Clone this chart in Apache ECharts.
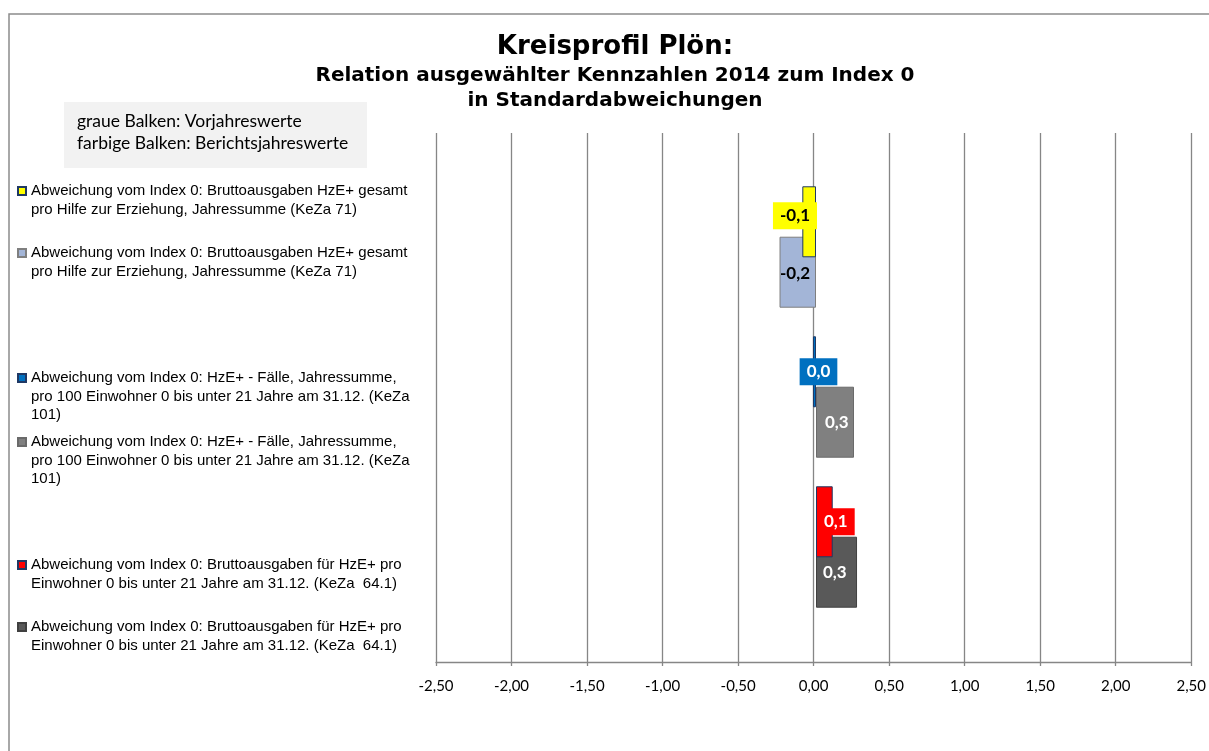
<!DOCTYPE html>
<html>
<head>
<meta charset="utf-8">
<script src="https://cdn.jsdelivr.net/npm/echarts@6/dist/echarts.min.js"></script>
<style>
  html, body { margin: 0; padding: 0; background: #fff; }
  #chart { width: 1209px; height: 751px; }
</style>
</head>
<body>
<div id="chart"></div>
<script>
// Kennzahlen (eine Zeile je Kennzahl, von oben nach unten)
const categories = ['KeZa 71', 'KeZa 101', 'KeZa 64.1'];

// Abweichung vom Index 0 in Standardabweichungen
const currentValues = [-0.09, -0.02, 0.11];   // Berichtsjahr (farbige Balken)
const previousValues = [-0.24, 0.25, 0.27];   // Vorjahr (graue Balken)

const currentColors = ['#FFFF00', '#0070C0', '#FF0000'];
const currentBorders = ['#1F3864', '#1F3864', '#1F3864'];
const previousColors = ['#A3B5D7', '#808080', '#595959'];
const previousBorders = ['#7F7F7F', '#6A6A6A', '#404040'];

const legendTexts = [
  'Abweichung vom Index 0: Bruttoausgaben HzE+ gesamt\npro Hilfe zur Erziehung, Jahressumme (KeZa 71)',
  'Abweichung vom Index 0: HzE+ - Fälle, Jahressumme,\npro 100 Einwohner 0 bis unter 21 Jahre am 31.12. (KeZa\n101)',
  'Abweichung vom Index 0: Bruttoausgaben für HzE+ pro\nEinwohner 0 bis unter 21 Jahre am 31.12. (KeZa  64.1)'
];

const xTicks = { min: -2.5, max: 2.5, interval: 0.5 };

const titleText = 'Kreisprofil Plön:';
const subtitleLines = ['Relation ausgewählter Kennzahlen 2014 zum Index 0', 'in Standardabweichungen'];
const noteLines = ['graue Balken: Vorjahreswerte', 'farbige Balken: Berichtsjahreswerte'];

// ---- layout / style ----
const LEFT = 436, RIGHT = 13;
const calibriLike = 'Lato, "Open Sans", sans-serif';
const arialLike = '"Liberation Sans", Arial, sans-serif';
const fmtDe = (v, d) => {
  const r = Math.round(v * Math.pow(10, d)) / Math.pow(10, d);
  return (r === 0 ? 0 : r).toFixed(d).replace('.', ',');
};

// label placement per bar: negative bars put their tag at the zero line
const curLabelStyle = [
  { position: 'insideRight', offset: [1, -6], color: '#000', backgroundColor: currentColors[0] },
  { position: 'inside', offset: [4, 0], color: '#fff', backgroundColor: currentColors[1] },
  { position: 'insideLeft', offset: [1, 0], color: '#fff', backgroundColor: currentColors[2] }
];
const prevLabelStyle = [
  { position: 'insideRight', offset: [1, 1], color: '#000' },
  { position: 'insideLeft', offset: [2, 0], color: '#fff' },
  { position: 'insideLeft', offset: [0, 0], color: '#fff' }
];

const series = [];
const legendNames = [];
const legendMap = {};
categories.forEach((cat, i) => {
  const curName = cat + ' Berichtsjahr';
  const prevName = cat + ' Vorjahr';
  legendNames.push(curName, prevName);
  legendMap[curName] = legendTexts[i];
  legendMap[prevName] = legendTexts[i];
  const pick = (arr) => categories.map((c, j) => (j === i ? arr[i] : '-'));
  const labelBase = {
    show: true,
    distance: 0,
    fontFamily: calibriLike,
    fontWeight: 'bold',
    fontSize: 17,
    padding: [5, 7, 5, 7],
    formatter: (p) => fmtDe(p.value, 1)
  };
  series.push({
    name: curName,
    type: 'bar',
    xAxisIndex: 1,
    yAxisIndex: 1,
    stack: 'cur',
    z: 3,
    barWidth: 71,
    barGap: '-29%',
    data: pick(currentValues),
    itemStyle: { color: currentColors[i], borderColor: currentBorders[i], borderWidth: 1 },
    label: Object.assign({}, labelBase, curLabelStyle[i])
  });
  series.push({
    name: prevName,
    type: 'bar',
    xAxisIndex: 1,
    yAxisIndex: 1,
    stack: 'prev',
    z: 2,
    barWidth: 71,
    barGap: '-29%',
    data: pick(previousValues),
    itemStyle: { color: previousColors[i], borderColor: previousBorders[i], borderWidth: 1 },
    label: Object.assign({}, labelBase, prevLabelStyle[i])
  });
});

// legend entries, one block each; leading blank lines keep the icon beside the first text line
const LH = 18.5;
const legendFirstLine = [191, 253, 378, 442, 565, 627];
const legends = legendNames.map((name, k) => {
  const n = legendMap[name].split('\n').length;
  return {
    data: [name],
    left: 17,
    top: legendFirstLine[k] - (2 * n - 1) * LH / 2,
    orient: 'vertical',
    padding: 0,
    icon: 'rect',
    itemWidth: 8,
    itemHeight: 8,
    selectedMode: false,
    formatter: (nm) => '\n'.repeat(n - 1) + legendMap[nm],
    textStyle: {
      fontFamily: arialLike,
      fontSize: 15,
      color: '#000',
      lineHeight: LH
    }
  };
});

const chart = echarts.init(document.getElementById('chart'), null, { renderer: 'canvas' });
chart.setOption({
  backgroundColor: '#fff',
  animation: false,
  legend: legends,
  grid: [
    { left: LEFT, right: RIGHT, top: 133, bottom: 89 },
    { left: LEFT, right: RIGHT, top: 172, bottom: 129 }
  ],
  xAxis: [
    {
      gridIndex: 0,
      type: 'value',
      min: xTicks.min,
      max: xTicks.max,
      interval: xTicks.interval,
      axisLine: { show: true, lineStyle: { color: '#868686', width: 1.3 } },
      axisTick: { show: true, length: 4, lineStyle: { color: '#868686', width: 1.3 } },
      splitLine: { show: true, lineStyle: { color: '#868686', width: 1.3 } },
      axisLabel: {
        margin: 17,
        fontFamily: calibriLike,
        fontSize: 15,
        color: '#000',
        formatter: (v) => fmtDe(v, 2)
      }
    },
    {
      gridIndex: 1,
      type: 'value',
      min: xTicks.min,
      max: xTicks.max,
      interval: xTicks.interval,
      show: false,
      splitLine: { show: false }
    }
  ],
  yAxis: [
    { gridIndex: 0, type: 'value', min: 0, max: 1, show: false, splitLine: { show: false } },
    { gridIndex: 1, type: 'category', data: categories, inverse: true, show: false }
  ],
  graphic: [
    {
      type: 'rect',
      shape: { x: 9, y: 14, width: 1400, height: 1000 },
      style: { fill: 'none', stroke: '#8C8C8C', lineWidth: 1.5 },
      silent: true
    },
    {
      type: 'text',
      x: 615, y: 47,
      style: {
        text: titleText,
        font: 'bold 26px "DejaVu Sans", sans-serif',
        fill: '#000',
        textAlign: 'center',
        textVerticalAlign: 'middle'
      }
    },
    {
      type: 'text',
      x: 615, y: 76,
      style: {
        text: subtitleLines[0],
        font: 'bold 20px "DejaVu Sans", sans-serif',
        fill: '#000',
        textAlign: 'center',
        textVerticalAlign: 'middle'
      }
    },
    {
      type: 'text',
      x: 615, y: 101,
      style: {
        text: subtitleLines[1],
        font: 'bold 20px "DejaVu Sans", sans-serif',
        fill: '#000',
        textAlign: 'center',
        textVerticalAlign: 'middle'
      }
    },
    {
      type: 'rect',
      shape: { x: 64, y: 102, width: 303, height: 66 },
      style: { fill: '#F2F2F2' },
      silent: true
    },
    {
      type: 'text',
      x: 77, y: 121,
      style: {
        text: noteLines[0],
        font: '17.5px Lato, sans-serif',
        fill: '#000',
        textVerticalAlign: 'middle'
      }
    },
    {
      type: 'text',
      x: 77, y: 143,
      style: {
        text: noteLines[1],
        font: '17.5px Lato, sans-serif',
        fill: '#000',
        textVerticalAlign: 'middle'
      }
    }
  ],
  series: series
});
</script>
</body>
</html>
